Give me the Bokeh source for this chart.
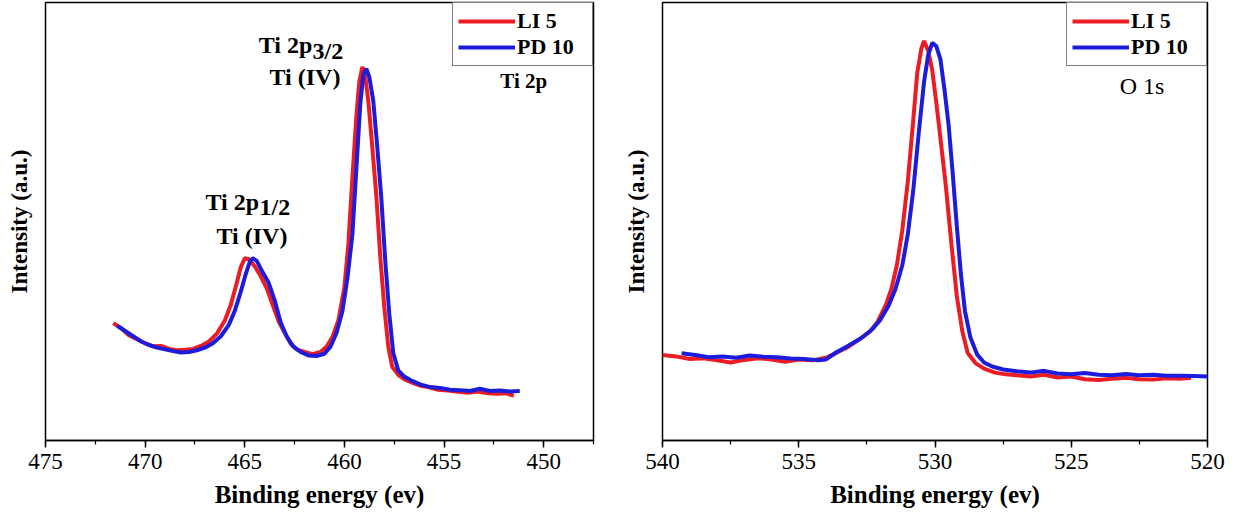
from bokeh.plotting import figure
from bokeh.models import Range1d, SingleIntervalTicker, FixedTicker, Legend, LegendItem, Label
from bokeh.layouts import row
from bokeh.embed import file_html
from bokeh.resources import INLINE

# ---------------- data ----------------
ti_li5_x = [471.6, 471.2, 470.8, 470.4, 470.0, 469.6, 469.2, 468.8, 468.4, 468.0, 467.6, 467.2, 466.8, 466.4,
            466.0, 465.7, 465.4, 465.2, 465.0, 464.8, 464.5, 464.2, 463.9, 463.6, 463.3, 463.0, 462.7, 462.4,
            462.0, 461.6, 461.2, 460.9, 460.6, 460.3, 460.0, 459.8, 459.6, 459.4, 459.25, 459.1, 458.95, 458.8,
            458.6, 458.4, 458.2, 458.0, 457.8, 457.6, 457.3, 457.0, 456.6, 456.2, 455.8, 455.3, 454.8, 454.3,
            453.8, 453.3, 452.8, 452.3, 451.9, 451.5]
ti_li5_y = [26.8, 25.6, 24.0, 23.1, 22.2, 21.5, 21.6, 20.9, 20.6, 20.7, 20.9, 21.6, 22.6, 24.4,
            27.4, 31.0, 36.0, 39.6, 41.6, 41.4, 39.8, 37.5, 34.8, 31.0, 27.2, 24.6, 22.2, 20.8,
            20.2, 19.7, 20.2, 21.4, 23.6, 27.5, 35.0, 45.0, 60.0, 74.0, 82.0, 85.3, 83.0, 77.5,
            67.0, 56.0, 42.0, 30.5, 21.5, 16.8, 15.0, 14.0, 13.2, 12.5, 12.2, 11.6, 11.4, 11.1,
            10.9, 11.2, 10.8, 10.7, 10.8, 10.2]
ti_pd10_x = [471.4, 471.0, 470.6, 470.2, 469.8, 469.4, 469.0, 468.6, 468.2, 467.8, 467.4, 467.0, 466.6, 466.2,
             465.8, 465.5, 465.2, 464.95, 464.75, 464.6, 464.4, 464.1, 463.8, 463.5, 463.2, 462.9, 462.6,
             462.2, 461.8, 461.4, 461.0, 460.7, 460.4, 460.1, 459.85, 459.6, 459.4, 459.2, 459.05, 458.9,
             458.75, 458.55, 458.35, 458.15, 457.95, 457.75, 457.55, 457.3, 457.0, 456.6, 456.2, 455.7,
             455.2, 454.7, 454.2, 453.7, 453.2, 452.7, 452.2, 451.7, 451.2]
ti_pd10_y = [26.2, 25.0, 23.8, 22.6, 21.8, 21.2, 20.8, 20.4, 20.1, 20.2, 20.6, 21.2, 22.2, 23.8,
             26.4, 29.6, 34.0, 38.0, 40.8, 41.6, 41.0, 38.4, 36.0, 32.0, 27.0, 23.8, 21.6,
             20.2, 19.4, 19.3, 19.8, 21.4, 24.5, 29.5, 37.0, 47.0, 62.0, 77.0, 83.5, 84.9,
             83.0, 77.5, 67.0, 55.5, 41.0, 29.0, 20.0, 16.0, 14.6, 13.6, 12.8, 12.2,
             12.0, 11.6, 11.5, 11.3, 11.8, 11.3, 11.4, 11.2, 11.3]

o_li5_x = [540.0, 539.5, 539.0, 538.5, 538.0, 537.5, 537.0, 536.5, 536.0, 535.5, 535.0, 534.5, 534.0, 533.6,
           533.2, 532.8, 532.4, 532.1, 531.8, 531.6, 531.4, 531.2, 531.0, 530.8, 530.65, 530.5, 530.4,
           530.25, 530.1, 529.95, 529.8, 529.6, 529.4, 529.2, 529.0, 528.8, 528.5, 528.2, 527.8, 527.4,
           527.0, 526.5, 526.0, 525.5, 525.0, 524.5, 524.0, 523.5, 523.0, 522.5, 522.0, 521.5, 521.0, 520.6]
o_li5_y = [19.5, 19.2, 18.6, 18.8, 18.3, 17.8, 18.4, 18.8, 18.5, 18.0, 18.5, 18.3, 18.9, 20.1,
           21.3, 23.0, 24.8, 27.2, 31.0, 34.6, 40.0, 48.0, 59.0, 73.0, 84.0, 89.5, 91.2,
           89.0, 84.5, 77.0, 69.0, 58.0, 45.0, 33.0, 25.0, 20.0, 17.6, 16.4, 15.5, 15.1,
           14.9, 14.6, 15.0, 14.4, 14.6, 14.0, 13.8, 14.1, 14.3, 14.0, 13.9, 14.2, 14.1, 14.3]
o_pd10_x = [539.3, 538.8, 538.3, 537.8, 537.3, 536.8, 536.3, 535.8, 535.3, 534.8, 534.3, 534.0, 533.6, 533.2,
            532.7, 532.3, 532.0, 531.7, 531.45, 531.2, 531.0, 530.8, 530.6, 530.4, 530.25, 530.1, 529.95,
            529.8, 529.65, 529.5, 529.35, 529.2, 529.05, 528.9, 528.7, 528.45, 528.2, 527.9, 527.5, 527.0,
            526.5, 526.0, 525.5, 525.0, 524.5, 524.0, 523.5, 523.0, 522.5, 522.0, 521.5, 521.0, 520.5, 520.0]
o_pd10_y = [19.9, 19.5, 19.0, 19.2, 18.9, 19.4, 19.1, 19.0, 18.7, 18.6, 18.3, 18.5, 20.2, 21.6,
            23.4, 25.4, 27.6, 30.8, 34.6, 40.0, 47.0, 57.0, 70.0, 82.0, 88.0, 90.8, 90.0,
            87.0, 80.0, 72.0, 61.0, 49.0, 38.0, 29.5, 23.5, 19.6, 17.8, 16.9, 16.2, 15.8,
            15.5, 15.9, 15.3, 15.1, 15.4, 15.0, 14.9, 15.2, 14.9, 15.0, 14.8, 14.8, 14.7, 14.6]

series_names = ["LI 5", "PD 10"]
series_colors = ["#ec1c24", "#1c1cdc"]

FONT = "Liberation Serif"


def make_fig(xr, width, left, right, curves, tag, tag_x, tag_y, tag_size, tag_style):
    p = figure(width=width, height=510, x_range=Range1d(*xr), y_range=Range1d(0, 100),
               output_backend="svg", toolbar_location=None,
               min_border_left=left, min_border_right=right, min_border_top=2, min_border_bottom=10)
    p.grid.visible = False
    p.outline_line_color = "black"
    p.outline_line_width = 1.5
    p.background_fill_color = "white"
    p.border_fill_color = "white"

    xa = p.xaxis[0]
    xa.ticker = SingleIntervalTicker(interval=5, num_minor_ticks=2)
    xa.axis_line_color = "black"
    xa.axis_line_width = 1.5
    xa.major_tick_out = 7
    xa.major_tick_in = 0
    xa.minor_tick_out = 4
    xa.minor_tick_in = 0
    xa.major_tick_line_width = 1.5
    xa.minor_tick_line_width = 1.2
    xa.major_label_text_font = FONT
    xa.major_label_text_font_size = "23px"
    xa.major_label_text_color = "black"
    xa.major_label_standoff = 6
    xa.axis_label = "Binding energy (ev)"
    xa.axis_label_text_font = FONT
    xa.axis_label_text_font_size = "25px"
    xa.axis_label_text_font_style = "bold"
    xa.axis_label_text_color = "black"
    xa.axis_label_standoff = 9

    ya = p.yaxis[0]
    ya.ticker = FixedTicker(ticks=[])
    ya.axis_line_color = None
    ya.major_tick_line_color = None
    ya.minor_tick_line_color = None
    ya.major_label_standoff = 0
    ya.major_tick_out = 0
    ya.axis_label = "Intensity (a.u.)"
    ya.axis_label_text_font = FONT
    ya.axis_label_text_font_size = "23px"
    ya.axis_label_text_font_style = "bold"
    ya.axis_label_text_color = "black"
    ya.axis_label_standoff = 14

    items = []
    for (cx, cy), name, col in zip(curves, series_names, series_colors):
        r = p.line(cx, cy, line_color=col, line_width=4)
        items.append(LegendItem(label=name, renderers=[r]))
    leg = Legend(items=items, location="top_right", margin=0, padding=5, spacing=0,
                 glyph_width=57, glyph_height=22, label_height=22, label_width=70, label_standoff=2,
                 border_line_color="black", border_line_width=1.5, background_fill_alpha=1,
                 label_text_font=FONT, label_text_font_size="22px", label_text_font_style="bold",
                 label_text_color="black")
    p.add_layout(leg)

    p.add_layout(Label(x=tag_x, y=tag_y, text=tag, text_font=FONT, text_font_size=tag_size,
                       text_font_style=tag_style, text_align="center", text_baseline="middle",
                       text_color="black"))
    return p


p1 = make_fig((475, 447.5), 620, 45, 27,
              [(ti_li5_x, ti_li5_y), (ti_pd10_x, ti_pd10_y)],
              "Ti 2p", 451.0, 82.0, "21px", "bold")

ann_style = dict(text_font=FONT, text_font_size="24px", text_font_style="bold",
                 text_baseline="middle", text_color="black")
p1.add_layout(Label(x=464.3, y=90.2, text="Ti 2p", text_align="left", **ann_style))
p1.add_layout(Label(x=461.6, y=89.0, text="3/2", text_align="left", **ann_style))
p1.add_layout(Label(x=461.98, y=83.1, text="Ti (IV)", text_align="center", **ann_style))
p1.add_layout(Label(x=466.97, y=54.5, text="Ti 2p", text_align="left", **ann_style))
p1.add_layout(Label(x=464.26, y=53.3, text="1/2", text_align="left", **ann_style))
p1.add_layout(Label(x=464.64, y=46.7, text="Ti (IV)", text_align="center", **ann_style))

p2 = make_fig((540, 520), 607, 35, 20,
              [(o_li5_x, o_li5_y), (o_pd10_x, o_pd10_y)],
              "O 1s", 522.4, 81.0, "24px", "normal")

layout = row(p1, p2)
open("out.html", "w").write(file_html(layout, INLINE))
